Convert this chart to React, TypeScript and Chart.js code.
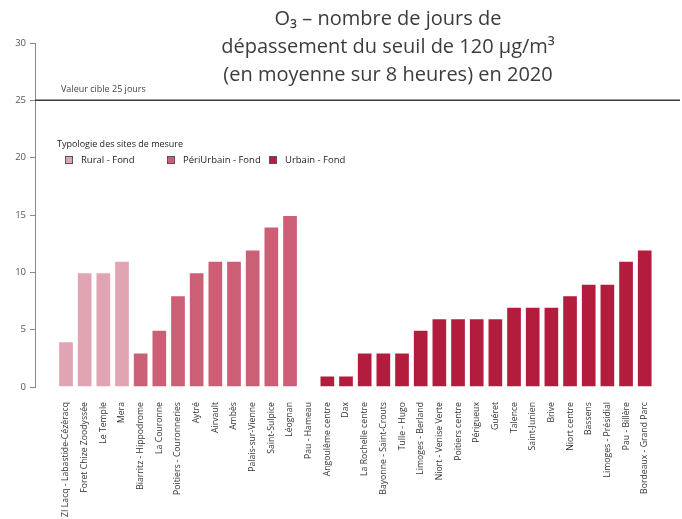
import React, { useEffect, useRef } from 'react';
import { Chart, registerables } from 'chart.js';

Chart.register(...registerables);

const stations = [
  'ZI Lacq - Labastide-Cézèracq',
  'Foret Chize Zoodyssée',
  'Le Temple',
  'Mera',
  'Biarritz - Hippodrome',
  'La Couronne',
  'Poitiers - Couronneries',
  'Aytré',
  'Airvault',
  'Ambès',
  'Palais-sur-Vienne',
  'Saint-Sulpice',
  'Léognan',
  'Pau - Hameau',
  'Angoulême centre',
  'Dax',
  'La Rochelle centre',
  'Bayonne - Saint-Crouts',
  'Tulle - Hugo',
  'Limoges - Berland',
  'Niort - Venise Verte',
  'Poitiers centre',
  'Périgueux',
  'Guéret',
  'Talence',
  'Saint-Junien',
  'Brive',
  'Niort centre',
  'Bassens',
  'Limoges - Présidial',
  'Pau - Billère',
  'Bordeaux - Grand Parc',
];

const stationTypes = [
  'Rural - Fond', 'Rural - Fond', 'Rural - Fond', 'Rural - Fond',
  'PériUrbain - Fond', 'PériUrbain - Fond', 'PériUrbain - Fond', 'PériUrbain - Fond',
  'PériUrbain - Fond', 'PériUrbain - Fond', 'PériUrbain - Fond', 'PériUrbain - Fond',
  'PériUrbain - Fond',
  'Urbain - Fond', 'Urbain - Fond', 'Urbain - Fond', 'Urbain - Fond', 'Urbain - Fond',
  'Urbain - Fond', 'Urbain - Fond', 'Urbain - Fond', 'Urbain - Fond', 'Urbain - Fond',
  'Urbain - Fond', 'Urbain - Fond', 'Urbain - Fond', 'Urbain - Fond', 'Urbain - Fond',
  'Urbain - Fond', 'Urbain - Fond', 'Urbain - Fond', 'Urbain - Fond',
];

const daysOver = [
  4, 10, 10, 11,
  3, 5, 8, 10, 11, 11, 12, 14, 15,
  0, 1, 1, 3, 3, 3, 5, 6, 6, 6, 6, 7, 7, 7, 8, 9, 9, 11, 12,
];

const seriesNames = ['Rural - Fond', 'PériUrbain - Fond', 'Urbain - Fond'];
const seriesColors = ['#E0A4B2', '#CB5F76', '#B31C3C'];

const yMin = 0;
const yMax = 30;
const yStep = 5;
const targetValue = 25;
const targetLabel = 'Valeur cible 25 jours';
const legendTitle = 'Typologie des sites de mesure';
const titleLines = [
  'O₃ – nombre de jours de',
  'dépassement du seuil de 120 µg/m³',
  '(en moyenne sur 8 heures) en 2020',
];

const FONT = '"Open Sans", "Noto Sans", sans-serif';

const overlayPlugin = {
  id: 'overlay',
  afterDatasetsDraw(chart: any) {
    const { ctx, chartArea, scales } = chart;
    const y = scales.y.getPixelForValue(targetValue);
    ctx.save();
    // target line
    ctx.strokeStyle = '#3a3a3a';
    ctx.lineWidth = 1.5;
    ctx.beginPath();
    ctx.moveTo(chartArea.left, y);
    ctx.lineTo(chartArea.right, y);
    ctx.stroke();
    ctx.fillStyle = '#444';
    ctx.font = `9px ${FONT}`;
    ctx.textAlign = 'left';
    ctx.textBaseline = 'middle';
    ctx.fillText(targetLabel, chartArea.left + 26, y - 11);

    // title
    ctx.fillStyle = '#3c3c3c';
    ctx.font = `20px ${FONT}`;
    ctx.textAlign = 'center';
    ctx.textBaseline = 'middle';
    titleLines.forEach((line, i) => {
      ctx.fillText(line, 388, 19 + i * 28);
    });

    // legend
    ctx.textAlign = 'left';
    ctx.textBaseline = 'middle';
    ctx.fillStyle = '#222';
    ctx.font = `9px ${FONT}`;
    ctx.fillText(legendTitle, chartArea.left + 22, 144);
    const itemX = [65, 167, 269];
    seriesNames.forEach((name, i) => {
      const bx = itemX[i];
      ctx.fillStyle = seriesColors[i];
      ctx.fillRect(bx, 156.5, 7, 7);
      ctx.strokeStyle = '#555';
      ctx.lineWidth = 1;
      ctx.strokeRect(bx + 0.5, 156.5, 7, 7);
      ctx.fillStyle = '#222';
      ctx.font = `9.5px ${FONT}`;
      ctx.fillText(name, bx + 16, 160);
    });
    ctx.restore();
  },
};

export default function App() {
  const canvasRef = useRef<HTMLCanvasElement | null>(null);

  useEffect(() => {
    document.body.style.margin = '0';
    const canvas = canvasRef.current;
    if (!canvas) return;

    const datasets = seriesNames.map((name, s) => ({
      label: name,
      data: stations
        .map((_, i) => (stationTypes[i] === name ? { x: i, y: daysOver[i] } : null))
        .filter((p) => p !== null),
      backgroundColor: seriesColors[s],
      borderColor: 'rgba(255,255,255,0.55)',
      borderWidth: 1,
      grouped: false,
      categoryPercentage: 1,
      barPercentage: 0.84,
    }));

    const chart = new Chart(canvas, {
      type: 'bar',
      data: { datasets: datasets as any },
      options: {
        responsive: false,
        animation: false,
        layout: { padding: { top: 43, right: 2, left: 0, bottom: 0 } },
        plugins: {
          legend: { display: false },
          title: { display: false },
          tooltip: { enabled: false },
        },
        scales: {
          x: {
            type: 'linear',
            offset: false,
            min: -1.66,
            max: 32.89,
            grid: { display: false },
            border: { display: false },
            afterFit(scale: any) {
              scale.height = 132;
              scale.paddingLeft = 0;
              scale.paddingRight = 0;
            },
            ticks: {
              stepSize: 1,
              autoSkip: false,
              includeBounds: false,
              minRotation: 90,
              maxRotation: 90,
              padding: 7,
              color: '#333',
              font: { family: FONT, size: 8.7 },
              callback: (v: any) => {
                const n = Number(v);
                return Number.isInteger(n) && n >= 0 && n < stations.length ? stations[n] : '';
              },
            },
          },
          y: {
            min: yMin,
            max: yMax,
            afterFit(scale: any) {
              scale.width = 35;
            },
            border: { display: true, color: '#8a8a8a', width: 1 },
            grid: {
              display: true,
              drawOnChartArea: false,
              drawTicks: true,
              tickLength: 5,
              color: '#8a8a8a',
            },
            ticks: {
              stepSize: yStep,
              padding: 4,
              color: '#555',
              font: { family: FONT, size: 9.5 },
            },
          },
        },
      },
      plugins: [overlayPlugin],
    });

    return () => chart.destroy();
  }, []);

  return (
    <div style={{ width: 682, height: 519 }}>
      <canvas ref={canvasRef} width={682} height={519} style={{ display: 'block' }} />
    </div>
  );
}
